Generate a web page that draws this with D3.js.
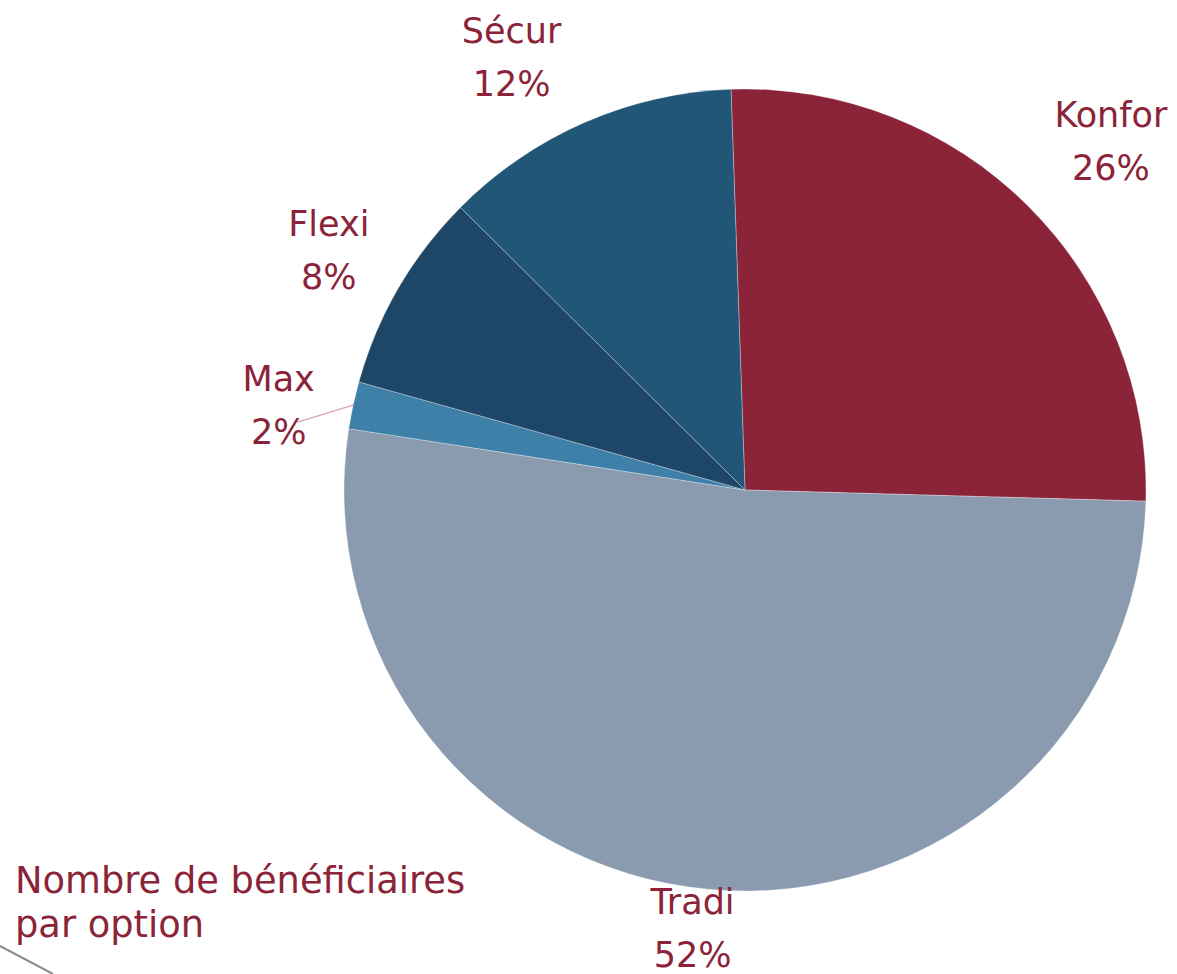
<!DOCTYPE html>
<html>
<head>
<meta charset="utf-8">
<script src="https://cdn.jsdelivr.net/npm/d3@7"></script>
<style>
  html, body { margin: 0; padding: 0; background: #ffffff; }
  svg { display: block; }
  text { font-family: "DejaVu Sans", Verdana, sans-serif; fill: #8B2439; }
</style>
</head>
<body>
<svg id="chart" width="1177" height="974"></svg>
<script>
// ---- data ----
const categories = ["Konfor", "Tradi", "Max", "Flexi", "Sécur"];
const values = [26.0, 52.0, 1.9, 8.1, 12.0];
const colors = ["#8B2439", "#8A9BAF", "#3E80A8", "#1E4767", "#215677"];
const titleLines = ["Nombre de bénéficiaires", "par option"];

// ---- layout ----
const W = 1177, H = 974;
const cx = 745, cy = 490, R = 401;
const startAngle = -2 * Math.PI / 180;
// manual label nudges (px) relative to the automatic outside placement
const labelNudge = {
  "Konfor": [26, 0],
  "Tradi": [-10, -25],
  "Max": [0, 0],
  "Flexi": [-13, 11],
  "Sécur": [-43, 14]
};

const svg = d3.select("#chart");

const data = categories.map((c, i) => ({ name: c, value: values[i], color: colors[i] }));

const pie = d3.pie()
  .value(d => d.value)
  .sort(null)
  .startAngle(startAngle)
  .endAngle(startAngle + 2 * Math.PI);

const arcs = pie(data);
const arc = d3.arc().innerRadius(0).outerRadius(R);

const g = svg.append("g").attr("transform", `translate(${cx},${cy})`);

g.selectAll("path.slice")
  .data(arcs)
  .join("path")
  .attr("class", "slice")
  .attr("d", arc)
  .attr("fill", d => d.data.color)
  .attr("stroke", "rgba(255,255,255,0.3)")
  .attr("stroke-width", 1);

// ---- labels ----
const total = d3.sum(values);
const fontSize = 35;
const lineGap = 53;
const pad = 25;

arcs.forEach(d => {
  const a = (d.startAngle + d.endAngle) / 2;
  const small = d.data.value / total < 0.03;
  const pct = Math.round(d.data.value / total * 100) + "%";
  const lines = [d.data.name, pct];

  const tmp = g.append("text").attr("font-size", fontSize).text(d.data.name);
  const w1 = tmp.node().getComputedTextLength();
  tmp.remove();
  const w = Math.max(w1, fontSize * 1.8);
  const h = 100;

  const rr = R + pad + (small ? 15 : 0);
  const ax = Math.sin(a) * rr, ay = -Math.cos(a) * rr;
  const nudge = labelNudge[d.data.name] || [0, 0];
  let lx = ax + Math.sin(a) * w / 2 + nudge[0];
  let ly = ay - Math.cos(a) * h / 2 + nudge[1];
  if (small) ly += 30;

  const t = g.append("text")
    .attr("text-anchor", "middle")
    .attr("font-size", fontSize);
  lines.forEach((ln, i) => {
    t.append("tspan")
      .attr("x", lx)
      .attr("y", ly - 25 + i * lineGap)
      .text(ln);
  });

  if (small) {
    const ex = Math.sin(a) * R, ey = -Math.cos(a) * R;
    g.append("line")
      .attr("x1", lx + 19).attr("y1", ly + 6)
      .attr("x2", ex).attr("y2", ey)
      .attr("stroke", "#D9A3AF")
      .attr("stroke-width", 1.2);
  }
});

// ---- title ----
const title = svg.append("text").attr("font-size", 36.8);
titleLines.forEach((ln, i) => {
  title.append("tspan").attr("x", 15).attr("y", 893 + i * 44).text(ln);
});

// decorative diagonal at bottom-left
svg.append("line")
  .attr("x1", 0).attr("y1", 946)
  .attr("x2", 53).attr("y2", 974)
  .attr("stroke", "#8c8c8c")
  .attr("stroke-width", 2);
</script>
</body>
</html>
